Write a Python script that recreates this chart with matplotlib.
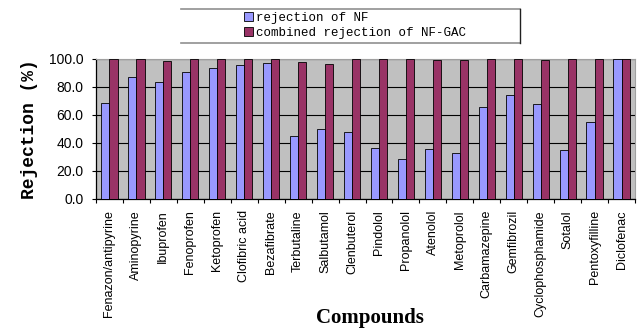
import numpy as np
import matplotlib
matplotlib.use("Agg")
import matplotlib.pyplot as plt
from matplotlib.patches import Patch
from matplotlib.lines import Line2D

compounds = ["Fenazon/antipyrine", "Aminopyrine", "Ibuprofen", "Fenoprofen",
             "Ketoprofen", "Clofibric acid", "Bezafibrate", "Terbutaline",
             "Salbutamol", "Clenbuterol", "Pindolol", "Propanolol", "Atenolol",
             "Metoprolol", "Carbamazepine", "Gemfibrozil", "Cyclophosphamide",
             "Sotalol", "Pentoxyfilline", "Diclofenac"]
nf = [68.3, 86.9, 83.3, 90.9, 93.3, 95.7, 97.4, 45.2, 50.0, 48.1,
      36.2, 28.3, 35.5, 33.1, 65.5, 74.0, 67.6, 35.0, 55.0, 100.0]
nf_gac = [100.0, 100.0, 98.8, 100.0, 100.0, 100.0, 100.0, 97.9, 96.2, 100.0,
          100.0, 100.0, 99.0, 99.0, 100.0, 100.0, 99.0, 100.0, 100.0, 100.0]
yticks = [0, 20, 40, 60, 80, 100]
series_labels = ["rejection of NF", "combined rejection of NF-GAC"]

c_nf = "#9999FF"
c_gac = "#993366"

W, H = 638, 330
fig = plt.figure(figsize=(W / 100, H / 100), dpi=100)
ax = fig.add_axes([96 / W, 1 - 199 / H, 539 / W, 140 / H])
ax.set_facecolor("#C0C0C0")

x = np.arange(len(compounds))
w = 0.3
ax.bar(x - w / 2, nf, width=w, color=c_nf, edgecolor="black", linewidth=0.6, zorder=3)
ax.bar(x + w / 2, nf_gac, width=w, color=c_gac, edgecolor="black", linewidth=0.6, zorder=3)

ax.set_xlim(-0.5, len(compounds) - 0.5)
ax.set_ylim(0, 100)
ax.set_yticks(yticks)
ax.set_yticklabels([f"{v:.1f}" for v in yticks], fontsize=10, family="Liberation Sans")
ax.yaxis.grid(True, color="black", linewidth=0.8, zorder=1)
ax.tick_params(axis="y", length=3, width=0.8, pad=6)

ax.set_xticks(x)
ax.set_xticklabels(compounds, rotation=90, fontsize=9, family="Liberation Sans")
ax.tick_params(axis="x", which="major", length=0, pad=8)
ax.set_xticks(np.arange(len(compounds) + 1) - 0.5, minor=True)
ax.tick_params(axis="x", which="minor", length=3, width=0.8, direction="out")

for s in ["left", "bottom"]:
    ax.spines[s].set_color("black")
    ax.spines[s].set_linewidth(0.9)
for s in ["top", "right"]:
    ax.spines[s].set_color("#A0A0A0")
    ax.spines[s].set_linewidth(0.8)

ax.set_ylabel("Rejection (%)", family="Liberation Mono", fontweight="bold",
              fontsize=13, labelpad=8)
fig.text(370 / W, 1 - 318 / H, "Compounds", family="Liberation Serif",
         fontweight="bold", fontsize=15, ha="center", va="center")

# legend box: grey top/bottom rules and a dark right edge
x0, x1, y0, y1 = 181 / W, 520 / W, 1 - 8.5 / H, 1 - 43 / H
fig.add_artist(Line2D([x0, x1], [y0, y0], transform=fig.transFigure, color="#909090", lw=1.2))
fig.add_artist(Line2D([x0, x1], [y1, y1], transform=fig.transFigure, color="#909090", lw=1.2))
fig.add_artist(Line2D([x1, x1], [y0, y1], transform=fig.transFigure, color="#202020", lw=1.0))

handles = [Patch(facecolor=c_nf, edgecolor="black", linewidth=0.6),
           Patch(facecolor=c_gac, edgecolor="black", linewidth=0.6)]
fig.legend(handles, series_labels, loc="center left",
           bbox_to_anchor=(244 / W, 1 - 25.5 / H),
           prop={"family": "Liberation Mono", "size": 9},
           frameon=False, handlelength=0.7, handleheight=0.7,
           handletextpad=0.3, borderpad=0, labelspacing=0.25,
           borderaxespad=0)

fig.savefig("out.png", dpi=100)
